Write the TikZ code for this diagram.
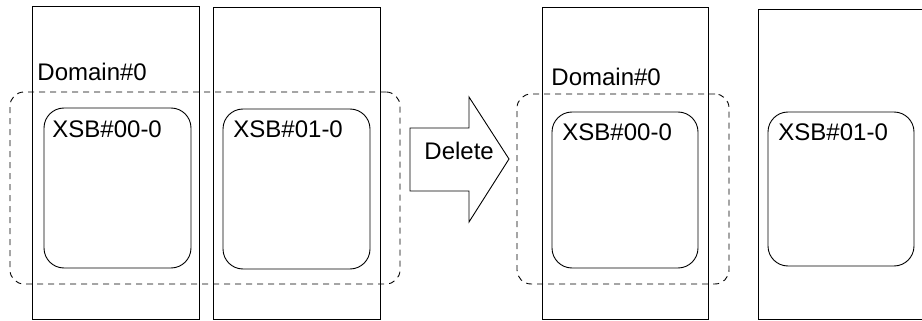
\documentclass[tikz,border=0pt]{standalone}
\usepackage{fontspec}
\setmainfont{Liberation Sans}
\begin{document}
\begin{tikzpicture}[x=1pt,y=-1pt,line width=0.9pt,
  board/.style={draw,inner sep=0pt,outer sep=0pt},
  dom/.style={draw,inner sep=0pt,outer sep=0pt,dash pattern=on 6pt off 5pt,rounded corners=14pt},
  xsb/.style={draw,fill=white,inner sep=0pt,outer sep=0pt,rounded corners=20pt},
  lbl/.style={anchor=base west,inner sep=0pt,font=\fontsize{24}{28}\selectfont}]
\useasboundingbox (0,0) rectangle (922,321);
\clip (0,0) rectangle (922,321);
% boards
\node[board,minimum width=167pt,minimum height=313pt] (bA) at (115.5,162.5) {};
\node[board,minimum width=167pt,minimum height=312pt] (bB) at (296.5,163) {};
\node[board,minimum width=166pt,minimum height=312pt] (bC) at (625,163) {};
\node[board,minimum width=170pt,minimum height=310pt] (bD) at (843,164) {};
% domains
\node[dom,minimum width=390pt,minimum height=192pt] (dL) at (205,188) {};
\node[dom,minimum width=212pt,minimum height=190pt] (dR) at (623,189) {};
% XSBs
\node[xsb,minimum width=147pt,minimum height=160pt] (xL1) at (117.5,188) {};
\node[xsb,minimum width=147pt,minimum height=160pt] (xL2) at (296.5,189) {};
\node[xsb,minimum width=146pt,minimum height=156pt] (xR1) at (625,190) {};
\node[xsb,minimum width=146pt,minimum height=154pt] (xR2) at (841,189) {};
% labels
\node[lbl] (tdL) at (37,81) {Domain\#0};
\node[lbl] (tdR) at (551,85) {Domain\#0};
\node[lbl] (tL1) at (52,137) {XSB\#00-0};
\node[lbl] (tL2) at (233,137) {XSB\#01-0};
\node[lbl] (tR1) at (562,140) {XSB\#00-0};
\node[lbl] (tR2) at (778,140) {XSB\#01-0};
% arrow
\draw (410,128) -- (469,128) -- (469,97) -- (509,159) -- (469,222) -- (469,191) -- (410,191) -- cycle;
\node[lbl] (tdel) at (424,160) {Delete};
\end{tikzpicture}
\end{document}
